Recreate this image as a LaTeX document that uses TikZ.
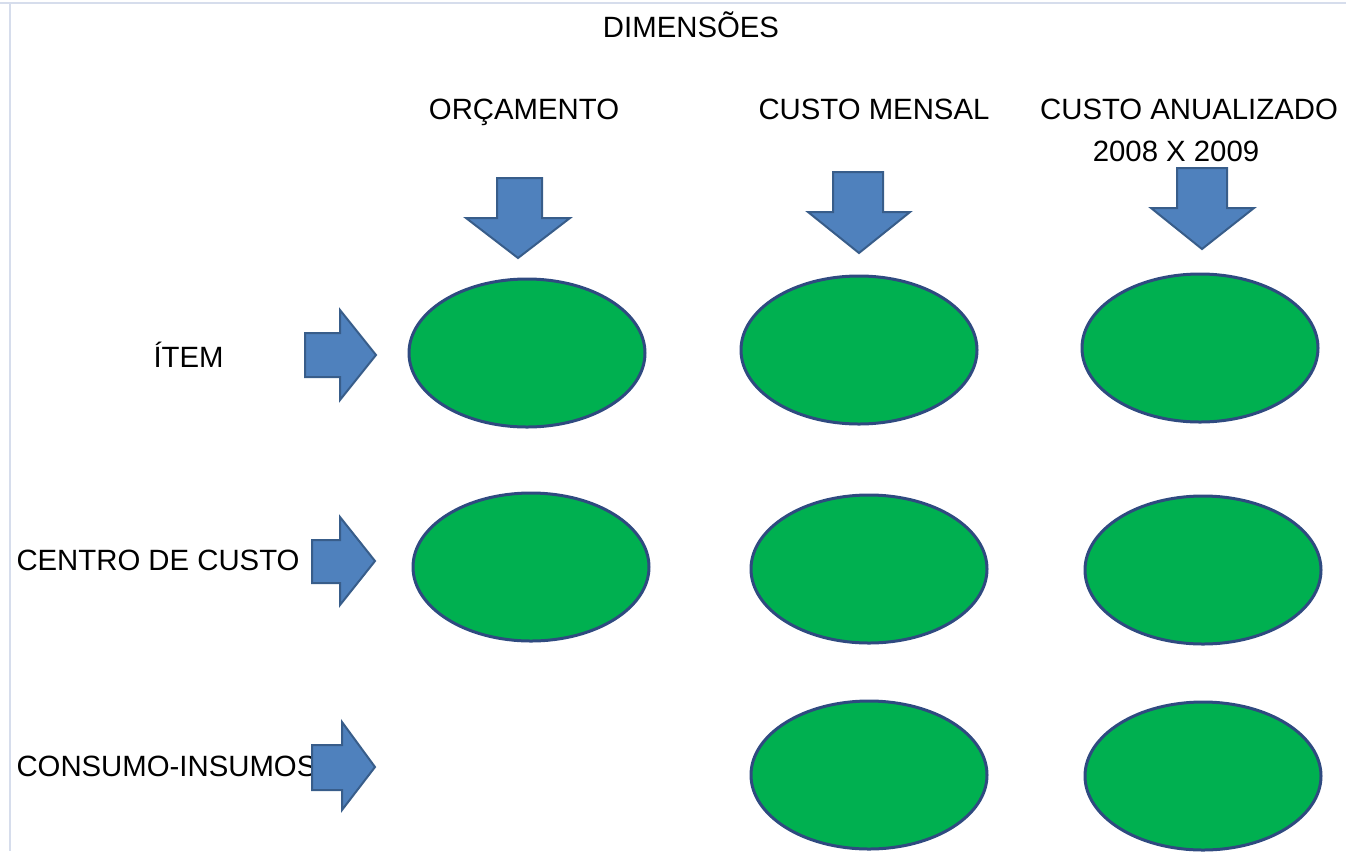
\documentclass[tikz,border=0pt]{standalone}
\usepackage{fontspec}
\setmainfont{Liberation Sans}
\usetikzlibrary{shapes.geometric}

\definecolor{cellgreen}{RGB}{0,176,80}
\definecolor{cellline}{RGB}{47,74,128}
\definecolor{arrowfill}{RGB}{79,129,189}
\definecolor{arrowline}{RGB}{56,93,138}
\definecolor{frameline}{RGB}{214,221,236}

\tikzset{every picture/.style={line width=0.75pt}}
\tikzset{
  cell/.style={ellipse, draw=cellline, fill=cellgreen, line width=2.25pt, minimum width=177pt, minimum height=111pt, inner sep=0pt},
  blockarrow/.style={draw=arrowline, fill=arrowfill, line width=1.5pt, line join=miter},
  caption/.style={inner sep=0pt, font=\fontsize{22}{26}\selectfont}
}

\begin{document}
\begin{tikzpicture}[x=0.75pt,y=0.75pt,yscale=-1,xscale=1]
\useasboundingbox (0,0) rectangle (1346,851);

%Frame
\draw [frameline, line width=1.5pt]  (0,3) -- (1346,3) ;
\draw [frameline, line width=1.5pt]  (10,3) -- (10,851) ;

% Text Node
\node (dim) [caption, anchor=base] at (691,37) {DIMENSÕES};
% Text Node
\node (orc) [caption, anchor=base] at (524,119) {ORÇAMENTO};
% Text Node
\node (mens) [caption, anchor=base] at (874,119) {CUSTO MENSAL};
% Text Node
\node (anual) [caption, anchor=base] at (1189,119) {CUSTO ANUALIZADO};
% Text Node
\node (anos) [caption, anchor=base] at (1176,161) {2008 X 2009};

% Text Node
\node (item) [caption, anchor=base west] at (153,367) {ÍTEM};
% Text Node
\node (centro) [caption, anchor=base west] at (16,570) {CENTRO DE CUSTO};
% Text Node
\node (consumo) [caption, anchor=base west] at (16,776) {CONSUMO-INSUMOS};

%Shape: Down Arrow
\draw [blockarrow]  (497,178) -- (542,178) -- (542,218) -- (570,218) -- (518,258) -- (466,218) -- (497,218) -- cycle ;
%Shape: Down Arrow
\draw [blockarrow]  (833,172) -- (883,172) -- (883,212) -- (910,212) -- (859,253) -- (808,212) -- (833,212) -- cycle ;
%Shape: Down Arrow
\draw [blockarrow]  (1177,168) -- (1227,168) -- (1227,208) -- (1254,208) -- (1202,249) -- (1151,208) -- (1177,208) -- cycle ;

%Shape: Right Arrow
\draw [blockarrow]  (305,333) -- (340,333) -- (340,310) -- (376,355) -- (340,400) -- (340,377) -- (305,377) -- cycle ;
%Shape: Right Arrow
\draw [blockarrow]  (312,540) -- (340,540) -- (340,517) -- (375,561) -- (340,605) -- (340,583) -- (312,583) -- cycle ;
%Shape: Right Arrow
\draw [blockarrow]  (312,745) -- (342,745) -- (342,722) -- (375,767) -- (342,810) -- (342,790) -- (312,790) -- cycle ;

%Shape: Ellipses
\node (c11) [cell] at (527,353) {};
\node (c12) [cell] at (859,350) {};
\node (c13) [cell] at (1200,348) {};
\node (c21) [cell] at (531,567) {};
\node (c22) [cell] at (869,569) {};
\node (c23) [cell] at (1203,570) {};
\node (c32) [cell] at (869,775) {};
\node (c33) [cell] at (1203,776) {};

\end{tikzpicture}
\end{document}
